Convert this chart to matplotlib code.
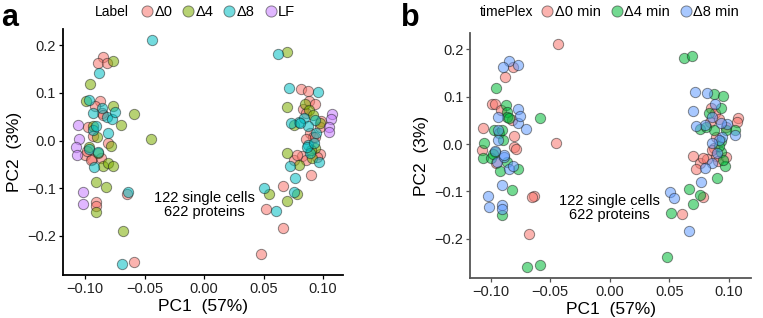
import matplotlib
matplotlib.use('Agg')
import matplotlib.pyplot as plt
from matplotlib.lines import Line2D
import numpy as np

# Values (same cells in both panels)
pc1 = [
    -0.0434, -0.0846, -0.0893, -0.0812, -0.0767, -0.0880, -0.0955, -0.0990, -0.0964, -0.0874,
    -0.0916, -0.0767, -0.0860, -0.0935, -0.0860, -0.0585, -0.0818, -0.0770, -0.0846, -0.0700,
    -0.1060, -0.0804, -0.0972, -0.0935, -0.0930, -0.0935, -0.0897, -0.1053, -0.0448, -0.0804,
    -0.0784, -0.1076, -0.0966, -0.1064, -0.1000, -0.0944, -0.0890, -0.0924, -0.0846, -0.0810,
    -0.0767, -0.0908, -0.0824, -0.1020, -0.0636, -0.0650, -0.1014, -0.0908, -0.0908, -0.0908,
    -0.0678, -0.0692, -0.0585, -0.0887, -0.0863, -0.0966, -0.0952, -0.0905, -0.0750, -0.0980,
    0.0625, 0.0695, 0.0717, 0.0815, 0.0877, 0.0955, 0.0700, 0.0835, 0.0885, 0.0933,
    0.0849, 0.0885, 0.1073, 0.1067, 0.1053, 0.1053, 0.0983, 0.0975, 0.0800, 0.0728,
    0.0756, 0.0840, 0.0918, 0.0935, 0.0877, 0.0975, 0.0890, 0.0940, 0.0918, 0.0857,
    0.0877, 0.0933, 0.0700, 0.0756, 0.0820, 0.0857, 0.0890, 0.0910, 0.0975, 0.0969,
    0.0723, 0.0800, 0.0897, 0.0765, 0.0667, 0.0507, 0.0543, 0.0756, 0.0784, 0.0700,
    0.0518, 0.0605, 0.0667, 0.0480, 0.0807, 0.0933, 0.0863, 0.0897, 0.0953, 0.0855,
    0.0920, 0.0780,
]
pc2 = [
    0.2116, 0.1750, 0.1625, 0.1625, 0.1680, 0.1420, 0.1180, 0.0838, 0.0850, 0.0830,
    0.0726, 0.0733, 0.0680, 0.0570, 0.0570, 0.0560, 0.0500, 0.0450, 0.0540, 0.0326,
    0.0333, 0.0165, 0.0290, 0.0305, 0.0230, 0.0095, 0.0080, 0.0025, 0.0025, -0.0060,
    -0.0116, -0.0130, -0.0170, -0.0305, -0.0305, -0.0390, -0.0270, -0.0565, -0.0530, -0.0467,
    -0.0530, -0.0867, -0.0970, -0.1090, -0.1090, -0.1126, -0.1337, -0.1300, -0.1380, -0.1510,
    -0.1905, -0.2600, -0.2565, -0.0235, -0.0375, -0.0145, -0.0410, 0.0300, 0.0600, -0.0220,
    0.1814, 0.1870, 0.1100, 0.1084, 0.1050, 0.1020, 0.0700, 0.0656, 0.0838, 0.0768,
    0.0768, 0.0650, 0.0558, 0.0460, 0.0290, 0.0186, 0.0417, 0.0360, 0.0396, 0.0375,
    0.0320, 0.0467, 0.0537, 0.0440, 0.0305, 0.0290, 0.0150, 0.0150, 0.0080, 0.0025,
    -0.0095, -0.0165, -0.0257, -0.0410, -0.0326, -0.0410, -0.0256, -0.0360, -0.0284, -0.0460,
    -0.0537, -0.0516, -0.0726, -0.0796, -0.0958, -0.1007, -0.1133, -0.1077, -0.1120, -0.1270,
    -0.1450, -0.1484, -0.1830, -0.2390, 0.0360, 0.0067, -0.0130, -0.0200, -0.0340, 0.0580,
    -0.0050, -0.0300,
]
label = [
    'Δ8', 'Δ0', 'Δ0', 'Δ0', 'Δ4', 'Δ8', 'Δ4', 'Δ4', 'Δ8', 'Δ0',
    'Δ0', 'Δ4', 'Δ8', 'Δ8', 'Δ0', 'Δ4', 'Δ8', 'Δ8', 'Δ0', 'Δ4',
    'LF', 'Δ8', 'Δ0', 'Δ4', 'Δ8', 'Δ0', 'Δ4', 'LF', 'Δ4', 'Δ0',
    'Δ4', 'LF', 'Δ8', 'LF', 'Δ0', 'Δ0', 'Δ4', 'Δ8', 'Δ4', 'Δ4',
    'Δ4', 'Δ4', 'Δ4', 'LF', 'Δ8', 'Δ0', 'LF', 'Δ0', 'Δ0', 'Δ4',
    'Δ4', 'Δ8', 'Δ0', 'Δ8', 'Δ0', 'Δ4', 'Δ0', 'Δ8', 'Δ8', 'Δ0',
    'Δ8', 'Δ4', 'Δ8', 'Δ0', 'Δ0', 'Δ8', 'Δ4', 'Δ0', 'Δ0', 'Δ0',
    'Δ4', 'Δ4', 'LF', 'LF', 'LF', 'LF', 'Δ0', 'Δ4', 'Δ8', 'Δ8',
    'Δ4', 'Δ8', 'Δ4', 'Δ8', 'Δ8', 'Δ0', 'Δ0', 'Δ8', 'Δ0', 'Δ0',
    'Δ8', 'Δ4', 'Δ4', 'Δ0', 'Δ0', 'Δ0', 'Δ8', 'Δ4', 'Δ0', 'Δ8',
    'Δ8', 'Δ4', 'Δ0', 'Δ8', 'Δ0', 'Δ8', 'Δ4', 'Δ8', 'Δ4', 'Δ4',
    'Δ0', 'Δ8', 'Δ0', 'Δ0', 'Δ8', 'Δ0', 'Δ8', 'Δ4', 'Δ0', 'Δ0',
    'Δ8', 'Δ0',
]
timeplex = [
    'Δ0 min', 'Δ8 min', 'Δ8 min', 'Δ0 min', 'Δ8 min', 'Δ0 min', 'Δ4 min', 'Δ0 min', 'Δ0 min', 'Δ4 min',
    'Δ0 min', 'Δ8 min', 'Δ4 min', 'Δ8 min', 'Δ4 min', 'Δ4 min', 'Δ0 min', 'Δ8 min', 'Δ4 min', 'Δ8 min',
    'Δ0 min', 'Δ0 min', 'Δ4 min', 'Δ8 min', 'Δ4 min', 'Δ8 min', 'Δ4 min', 'Δ4 min', 'Δ0 min', 'Δ0 min',
    'Δ0 min', 'Δ0 min', 'Δ4 min', 'Δ4 min', 'Δ4 min', 'Δ8 min', 'Δ8 min', 'Δ4 min', 'Δ8 min', 'Δ8 min',
    'Δ4 min', 'Δ8 min', 'Δ4 min', 'Δ8 min', 'Δ0 min', 'Δ0 min', 'Δ8 min', 'Δ8 min', 'Δ8 min', 'Δ4 min',
    'Δ0 min', 'Δ4 min', 'Δ4 min', 'Δ8 min', 'Δ4 min', 'Δ8 min', 'Δ0 min', 'Δ4 min', 'Δ8 min', 'Δ4 min',
    'Δ4 min', 'Δ4 min', 'Δ8 min', 'Δ8 min', 'Δ4 min', 'Δ4 min', 'Δ8 min', 'Δ4 min', 'Δ8 min', 'Δ4 min',
    'Δ0 min', 'Δ0 min', 'Δ0 min', 'Δ0 min', 'Δ4 min', 'Δ8 min', 'Δ8 min', 'Δ0 min', 'Δ8 min', 'Δ8 min',
    'Δ4 min', 'Δ0 min', 'Δ0 min', 'Δ8 min', 'Δ4 min', 'Δ4 min', 'Δ0 min', 'Δ8 min', 'Δ8 min', 'Δ8 min',
    'Δ0 min', 'Δ4 min', 'Δ0 min', 'Δ0 min', 'Δ0 min', 'Δ8 min', 'Δ0 min', 'Δ0 min', 'Δ0 min', 'Δ4 min',
    'Δ0 min', 'Δ8 min', 'Δ4 min', 'Δ8 min', 'Δ4 min', 'Δ8 min', 'Δ8 min', 'Δ4 min', 'Δ0 min', 'Δ4 min',
    'Δ4 min', 'Δ0 min', 'Δ8 min', 'Δ4 min', 'Δ4 min', 'Δ4 min', 'Δ0 min', 'Δ8 min', 'Δ4 min', 'Δ8 min',
    'Δ4 min', 'Δ0 min',
]

label_levels = ['Δ0', 'Δ4', 'Δ8', 'LF']
label_colors = ['#F8766D', '#7CAE00', '#00BFC4', '#C77CFF']
timeplex_levels = ['Δ0 min', 'Δ4 min', 'Δ8 min']
timeplex_colors = ['#F8766D', '#00BA38', '#619CFF']

x_ticks = [-0.10, -0.05, 0.00, 0.05, 0.10]
y_ticks = [-0.2, -0.1, 0.0, 0.1, 0.2]

plt.rcParams['font.family'] = ['Liberation Sans', 'DejaVu Sans']

fig = plt.figure(figsize=(7.63, 3.18), dpi=100)
ax_a = fig.add_axes([0.0826, 0.135, 0.367, 0.773])
ax_b = fig.add_axes([0.6164, 0.125, 0.368, 0.770])

x = np.array(pc1)
y = np.array(pc2)


def draw_panel(ax, groups, levels, colors, spine_color, xlim, ylim):
    groups = np.array(groups)
    for lev, col in zip(levels, colors):
        m = groups == lev
        ax.scatter(x[m], y[m], s=55, facecolor=matplotlib.colors.to_rgba(col, 0.55),
                   edgecolor=(0.1, 0.1, 0.1, 0.5), linewidth=0.7, zorder=3)
    ax.set_xlim(*xlim)
    ax.set_ylim(*ylim)
    ax.set_xticks(x_ticks)
    ax.set_xticklabels(['\u22120.10', '\u22120.05', '0.00', '0.05', '0.10'])
    ax.set_yticks(y_ticks)
    ax.set_yticklabels(['\u22120.2', '\u22120.1', '0.0', '0.1', '0.2'])
    for s in ['top', 'right']:
        ax.spines[s].set_visible(False)
    for s in ['left', 'bottom']:
        ax.spines[s].set_color(spine_color)
        ax.spines[s].set_linewidth(1.3)
    ax.tick_params(axis='both', length=3, width=0.9, color=spine_color,
                   labelsize=10.5, labelcolor='#222222', pad=2)
    ax.set_xlabel('PC1  (57%)', fontsize=12.5, labelpad=2)
    ax.set_ylabel('PC2  (3%)', fontsize=12.5, labelpad=4)
    ax.text(0.0, -0.135, '122 single cells\n622 proteins', ha='center', va='center',
            fontsize=10.5, linespacing=1.0)


draw_panel(ax_a, label, label_levels, label_colors, 'black', (-0.1185, 0.1168), (-0.283, 0.234))
draw_panel(ax_b, timeplex, timeplex_levels, timeplex_colors, '#555555', (-0.117, 0.1187), (-0.284, 0.234))


def make_legend(levels, colors, title, title_x, anchor_x):
    handles = [Line2D([], [], marker='o', linestyle='', markersize=8,
                      markerfacecolor=matplotlib.colors.to_rgba(c, 0.55),
                      markeredgecolor=(0.1, 0.1, 0.1, 0.5), markeredgewidth=0.7)
               for c in colors]
    fig.text(title_x, 0.962, title, fontsize=10, va='center', ha='left')
    fig.legend(handles, levels, loc='center left', bbox_to_anchor=(anchor_x, 0.962),
               ncol=len(levels), frameon=False, fontsize=10.5, handletextpad=0.0,
               columnspacing=0.6, handlelength=1.0, borderaxespad=0, borderpad=0)


make_legend(label_levels, label_colors, 'Label', 0.124, 0.183)
make_legend(timeplex_levels, timeplex_colors, 'timePlex', 0.629, 0.708)

fig.text(0.002, 0.99, 'a', fontsize=22, fontweight='bold', va='top', ha='left')
fig.text(0.526, 0.99, 'b', fontsize=22, fontweight='bold', va='top', ha='left')

fig.savefig('out.png', dpi=100)
